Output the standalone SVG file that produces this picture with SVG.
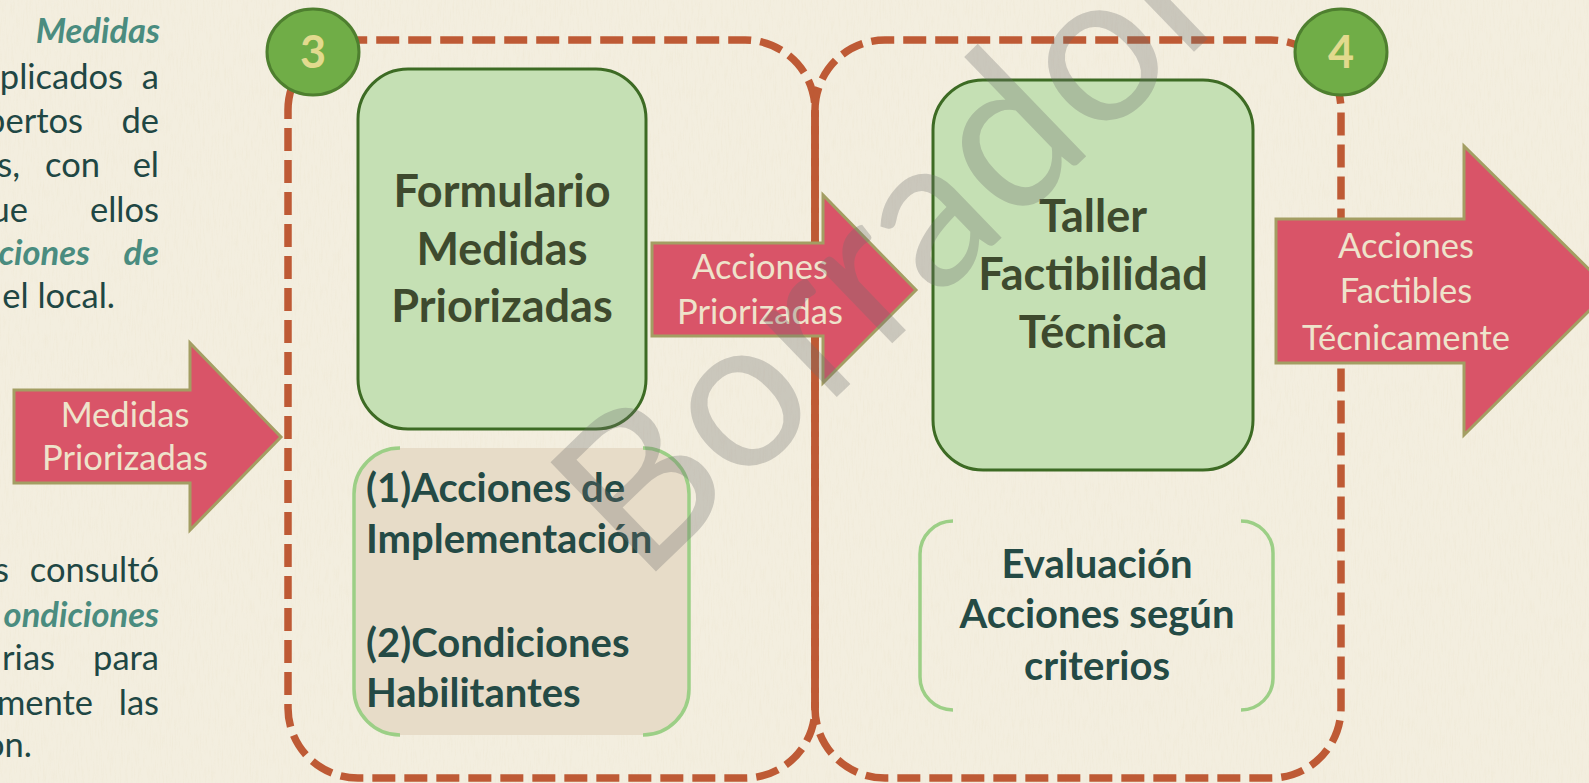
<svg xmlns="http://www.w3.org/2000/svg" width="1589" height="783" viewBox="0 0 1589 783">
<defs>
<style>
.para{font-family:Lato,"Liberation Sans",sans-serif;font-size:34.5px;fill:#1F4744;text-anchor:end}
.emph{font-family:Lato,"Liberation Sans",sans-serif;font-size:34.5px;fill:#4A8C7F;font-weight:bold;font-style:italic;text-anchor:end}
.dash{fill:none;stroke:#BE5A35;stroke-width:7.5;stroke-dasharray:23 9}
.badge{fill:#70AD47;stroke:#4E7F2F;stroke-width:3}
.num{font-family:Lato,"Liberation Sans",sans-serif;font-size:45px;font-weight:bold;fill:#E2DA8E;text-anchor:middle}
.card{fill:#C5E0B4;stroke:#3D6B24;stroke-width:3}
.title{font-family:Lato,"Liberation Sans",sans-serif;font-size:45px;font-weight:bold;fill:#3E4A2E;text-anchor:middle}
.content{font-family:Lato,"Liberation Sans",sans-serif;font-size:40px;font-weight:bold;fill:#244A45}
.bracket{fill:none;stroke:#9CCF86;stroke-width:3.5}
.arrow{fill:#D95468;stroke:#A39E63;stroke-width:3}
.lbl{font-family:Lato,"Liberation Sans",sans-serif;font-size:34.5px;fill:#EEE3CB;text-anchor:middle}
.wm{font-family:Lato,"Liberation Sans",sans-serif;font-size:212px;fill:#6E6E6E;opacity:0.3}
</style>
<filter id="paper" x="0" y="0" width="100%" height="100%">
<feTurbulence type="fractalNoise" baseFrequency="0.6 0.06" numOctaves="3" seed="7"/>
<feColorMatrix type="matrix" values="0 0 0 0 0.84  0 0 0 0 0.78  0 0 0 0 0.62  1.1 0 0 0 -0.5"/>
</filter>
</defs>
<rect x="0" y="0" width="1589" height="783" fill="#F3EEDF"/>
<rect x="0" y="0" width="1589" height="783" fill="#F3EEDF" filter="url(#paper)" opacity="0.7"/>

<g id="left-text">
<text class="emph" x="160" y="43">Medidas</text>
<text class="para" x="123" y="89">plicados</text><text class="para" x="159" y="89">a</text>
<text class="para" x="83" y="133">pertos</text><text class="para" x="159" y="133">de</text>
<text class="para" x="20" y="177">s,</text><text class="para" x="100" y="177">con</text><text class="para" x="159" y="177">el</text>
<text class="para" x="28" y="222">ue</text><text class="para" x="159" y="222">ellos</text>
<text class="emph" x="90" y="265">ciones</text><text class="emph" x="159" y="265">de</text>
<text class="para" x="115" y="308">el local.</text>
<text class="para" x="9" y="582">s</text><text class="para" x="159" y="582">consultó</text>
<text class="emph" x="159" y="627">ondiciones</text>
<text class="para" x="55" y="670">rias</text><text class="para" x="159" y="670">para</text>
<text class="para" x="93" y="715">mente</text><text class="para" x="159" y="715">las</text>
<text class="para" x="32" y="757">on.</text>
</g>

<g id="stage3-frame">
<path class="dash" d="M288,110 A70,70 0 0 1 358,40 L745,40 A70,70 0 0 1 815,110 L815,708 A70,70 0 0 1 745,778 L358,778 A70,70 0 0 1 288,708 Z"/>
</g>
<g id="stage4-frame">
<path class="dash" d="M815,110 A70,70 0 0 1 885,40 L1271,40 A70,70 0 0 1 1341,110 L1341,708 A70,70 0 0 1 1271,778 L885,778 A70,70 0 0 1 815,708 Z"/>
<path d="M815,110 V708" stroke="#BE5A35" stroke-width="7.5" fill="none"/>
</g>

<g id="badge3">
<ellipse class="badge" cx="313" cy="52" rx="46" ry="43"/>
<text class="num" x="313" y="68">3</text>
</g>
<g id="badge4">
<ellipse class="badge" cx="1341" cy="52" rx="46" ry="43"/>
<text class="num" x="1341" y="68">4</text>
</g>

<g id="formulario">
<rect class="card" x="358" y="69" width="288" height="360" rx="50"/>
<text class="title" x="502" y="207">Formulario</text>
<text class="title" x="502" y="265">Medidas</text>
<text class="title" x="502" y="322">Priorizadas</text>
</g>

<g id="acciones-condiciones">
<rect x="353" y="448" width="337" height="287" rx="46" fill="#E7DCC8"/>
<path class="bracket" d="M400,448 A46,46 0 0 0 354,494 L354,689 A46,46 0 0 0 400,735"/>
<path class="bracket" d="M643,448 A46,46 0 0 1 689,494 L689,689 A46,46 0 0 1 643,735"/>
<text class="content" x="366" y="502">(1)Acciones de</text>
<text class="content" x="366" y="553">Implementación</text>
<text class="content" x="366" y="657">(2)Condiciones</text>
<text class="content" x="366" y="707">Habilitantes</text>
</g>

<g id="taller">
<rect class="card" x="933" y="80" width="320" height="390" rx="50"/>
<text class="title" x="1093" y="232">Taller</text>
<text class="title" x="1093" y="290">Factibilidad</text>
<text class="title" x="1093" y="348">Técnica</text>
</g>

<g id="evaluacion">
<path class="bracket" d="M953,521 A33,33 0 0 0 920,554 L920,677 A33,33 0 0 0 953,710"/>
<path class="bracket" d="M1241,521 A32,32 0 0 1 1273,553 L1273,678 A32,32 0 0 1 1241,710"/>
<text class="content" x="1097" y="578" text-anchor="middle">Evaluación</text>
<text class="content" x="1097" y="628" text-anchor="middle">Acciones según</text>
<text class="content" x="1097" y="680" text-anchor="middle">criterios</text>
</g>

<g id="connectors">
<g id="arrow-medidas">
<path class="arrow" d="M14,390 L190,390 L190,343 L281,437 L190,530 L190,483 L14,483 Z"/>
<text class="lbl" x="125" y="427">Medidas</text>
<text class="lbl" x="125" y="470">Priorizadas</text>
</g>
<g id="arrow-acciones">
<path class="arrow" d="M652,243 L823,243 L823,195 L916,290 L823,383 L823,336 L652,336 Z"/>
<text class="lbl" x="760" y="279">Acciones</text>
<text class="lbl" x="760" y="324">Priorizadas</text>
</g>
<g id="arrow-factibles">
<path class="arrow" d="M1276,219 L1464,219 L1464,146 L1610,290 L1464,435 L1464,363 L1276,363 Z"/>
<text class="lbl" x="1406" y="258">Acciones</text>
<text class="lbl" x="1406" y="303">Factibles</text>
<text class="lbl" x="1406" y="350">Técnicamente</text>
</g>
</g>

<g id="watermark">
<text class="wm" transform="translate(642,585) rotate(-44)">Borrador</text>
</g>
</svg>
